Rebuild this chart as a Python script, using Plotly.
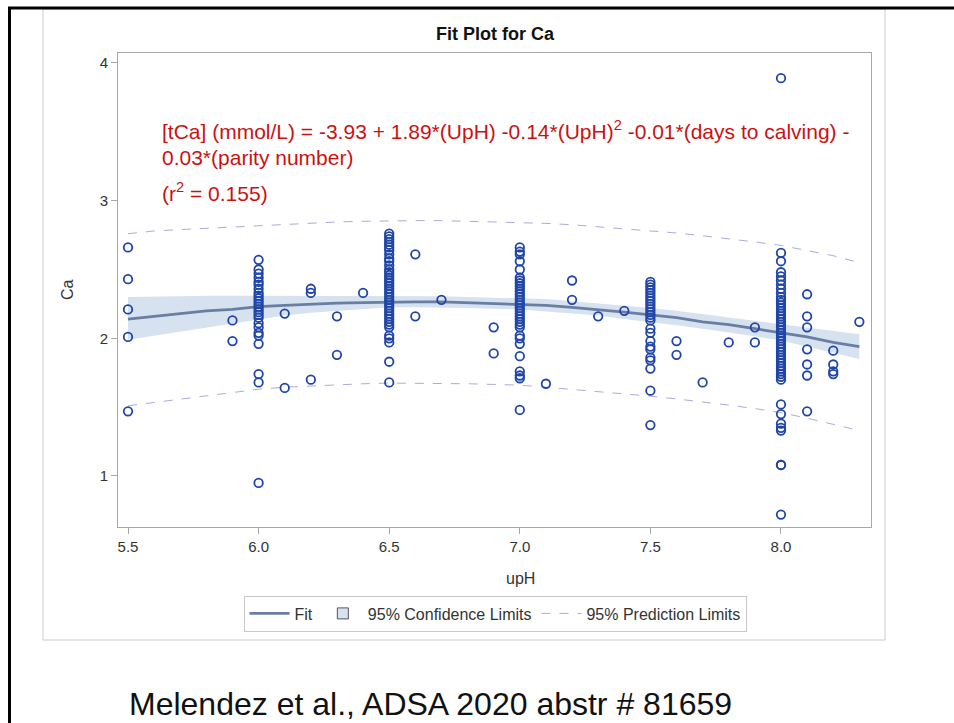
import plotly.graph_objects as go

# ---- data ----
ca_55 = [2.66, 2.43, 2.21, 2.01, 1.47]
ca_59 = [2.13, 1.98]
ca_60 = [2.57, 2.50, 2.47, 2.44, 2.41, 2.39, 2.36, 2.33, 2.31, 2.29, 2.27, 2.25, 2.23, 2.21, 2.19,
         2.17, 2.15, 2.11, 2.08, 2.04, 2.02, 1.96, 1.74, 1.68, 0.95]
ca_61 = [2.18, 1.64]
ca_62 = [2.36, 2.33, 1.70]
ca_63 = [2.16, 1.88]
ca_64 = [2.33]
ca_65 = [2.76, 2.74, 2.72, 2.70, 2.68, 2.66, 2.64, 2.61, 2.58, 2.56, 2.53, 2.50, 2.48, 2.46, 2.44,
         2.42, 2.40, 2.38, 2.36, 2.34, 2.32, 2.30, 2.28, 2.26, 2.24, 2.22, 2.20, 2.18, 2.16, 2.14,
         2.12, 2.10, 2.08, 2.02, 2.00, 1.97, 1.83, 1.68]
ca_66 = [2.61, 2.16]
ca_67 = [2.28]
ca_69 = [2.08, 1.89]
ca_70 = [2.66, 2.63, 2.61, 2.56, 2.50, 2.44, 2.42, 2.40, 2.38, 2.36, 2.34, 2.32, 2.30, 2.28, 2.26,
         2.24, 2.22, 2.20, 2.18, 2.16, 2.14, 2.12, 2.10, 2.08, 2.02, 2.00, 1.96, 1.87, 1.76, 1.73,
         1.71, 1.48]
ca_71 = [1.67]
ca_72 = [2.42, 2.28]
ca_73 = [2.16]
ca_74 = [2.20]
ca_75 = [2.41, 2.39, 2.37, 2.35, 2.33, 2.31, 2.29, 2.27, 2.25, 2.23, 2.21, 2.19, 2.17, 2.15, 2.13,
         2.07, 2.04, 1.98, 1.94, 1.92, 1.86, 1.84, 1.78, 1.62, 1.37]
ca_76 = [1.98, 1.88]
ca_77 = [1.68]
ca_78 = [1.97]
ca_79 = [2.08, 1.97]
ca_80 = [3.89, 2.62, 2.56, 2.48, 2.45, 2.42, 2.39, 2.36, 2.33, 2.30, 2.28, 2.26, 2.24, 2.22, 2.20,
         2.18, 2.16, 2.14, 2.12, 2.10, 2.08, 2.06, 2.04, 2.02, 2.00, 1.98, 1.96, 1.94, 1.92, 1.90,
         1.88, 1.86, 1.84, 1.82, 1.80, 1.78, 1.76, 1.74, 1.72, 1.70, 1.52, 1.45, 1.38, 1.35, 1.33,
         1.08, 1.08, 0.72]
ca_81 = [2.32, 2.16, 2.08, 1.92, 1.81, 1.73, 1.47]
ca_82 = [1.91, 1.81, 1.76, 1.74]
ca_83 = [2.12]

groups = [(5.5, ca_55), (5.9, ca_59), (6.0, ca_60), (6.1, ca_61), (6.2, ca_62), (6.3, ca_63),
          (6.4, ca_64), (6.5, ca_65), (6.6, ca_66), (6.7, ca_67), (6.9, ca_69), (7.0, ca_70),
          (7.1, ca_71), (7.2, ca_72), (7.3, ca_73), (7.4, ca_74), (7.5, ca_75), (7.6, ca_76),
          (7.7, ca_77), (7.8, ca_78), (7.9, ca_79), (8.0, ca_80), (8.1, ca_81), (8.2, ca_82),
          (8.3, ca_83)]

fit_x = [5.5, 5.6, 5.7, 5.8, 5.9, 6.0, 6.1, 6.2, 6.3, 6.4, 6.5, 6.6, 6.7, 6.8, 6.9, 7.0,
         7.1, 7.2, 7.3, 7.4, 7.5, 7.6, 7.7, 7.8, 7.9, 8.0, 8.1, 8.2, 8.3]
fit_y = [2.14, 2.16, 2.18, 2.20, 2.21, 2.23, 2.24, 2.25, 2.255, 2.26, 2.265, 2.265, 2.265, 2.26,
         2.255, 2.25, 2.24, 2.225, 2.21, 2.19, 2.17, 2.15, 2.12, 2.10, 2.07, 2.04, 2.01, 1.97, 1.94]
cl_upper = [2.30, 2.30, 2.305, 2.31, 2.31, 2.31, 2.31, 2.31, 2.31, 2.31, 2.305, 2.305, 2.305, 2.30,
            2.295, 2.29, 2.285, 2.27, 2.255, 2.24, 2.22, 2.20, 2.175, 2.155, 2.13, 2.10, 2.08,
            2.05, 2.03]
cl_lower = [1.99, 2.02, 2.05, 2.08, 2.11, 2.14, 2.165, 2.185, 2.20, 2.215, 2.225, 2.225, 2.225,
            2.22, 2.215, 2.21, 2.195, 2.18, 2.165, 2.14, 2.12, 2.095, 2.07, 2.045, 2.015, 1.985,
            1.94, 1.895, 1.85]
pl_upper = [2.76, 2.78, 2.79, 2.80, 2.81, 2.82, 2.83, 2.84, 2.845, 2.85, 2.855, 2.855, 2.855, 2.85,
            2.85, 2.845, 2.835, 2.825, 2.81, 2.80, 2.785, 2.765, 2.745, 2.725, 2.70, 2.675, 2.64,
            2.60, 2.55]
pl_lower = [1.51, 1.535, 1.56, 1.585, 1.61, 1.63, 1.645, 1.655, 1.665, 1.67, 1.675, 1.675, 1.675,
            1.67, 1.665, 1.66, 1.645, 1.63, 1.615, 1.60, 1.58, 1.56, 1.54, 1.515, 1.49, 1.46, 1.42,
            1.375, 1.33]

x_ticks = [5.5, 6.0, 6.5, 7.0, 7.5, 8.0]
x_tick_labels = ["5.5", "6.0", "6.5", "7.0", "7.5", "8.0"]
y_ticks = [1, 2, 3, 4]

W, H = 954, 723
FONT = "Liberation Sans, Arial, sans-serif"

pts_x, pts_y = [], []
for xv, vals in groups:
    for v in vals:
        pts_x.append(xv)
        pts_y.append(v)

BAND = "#d6e2f0"
PRED = "#a9acd8"
FITC = "#6a7ea3"
OBS = "#1f45a8"

fig = go.Figure()
# confidence band
fig.add_trace(go.Scatter(x=fit_x, y=cl_lower, mode="lines", line=dict(width=0, color="rgba(0,0,0,0)"),
                         showlegend=False, hoverinfo="skip"))
fig.add_trace(go.Scatter(x=fit_x, y=cl_upper, mode="lines", line=dict(width=0, color="rgba(0,0,0,0)"),
                         fill="tonexty", fillcolor=BAND, showlegend=False, hoverinfo="skip"))
# prediction limits
fig.add_trace(go.Scatter(x=fit_x, y=pl_upper, mode="lines",
                         line=dict(color=PRED, width=1, dash="dash"), showlegend=False))
fig.add_trace(go.Scatter(x=fit_x, y=pl_lower, mode="lines",
                         line=dict(color=PRED, width=1, dash="dash"), showlegend=False))
# fit
fig.add_trace(go.Scatter(x=fit_x, y=fit_y, mode="lines", name="Fit",
                         line=dict(color=FITC, width=2.8)))
# legend entries
fig.add_trace(go.Scatter(x=[None], y=[None], mode="markers", name="95% Confidence Limits",
                         marker=dict(symbol="square", size=11, color=BAND,
                                     line=dict(color="#555555", width=1))))
fig.add_trace(go.Scatter(x=[None], y=[None], mode="lines", name="95% Prediction Limits",
                         line=dict(color=PRED, width=1, dash="dash")))
# observations
fig.add_trace(go.Scatter(x=pts_x, y=pts_y, mode="markers", showlegend=False,
                         marker=dict(symbol="circle-open", size=8.5, color=OBS,
                                     line=dict(width=1.8, color=OBS))))

x0p, x1p = 118 / W, 871 / W
y0p, y1p = 1 - 527 / H, 1 - 53 / H

fig.update_layout(
    width=W, height=H,
    margin=dict(l=0, r=0, t=0, b=0),
    paper_bgcolor="white", plot_bgcolor="white",
    font=dict(family=FONT, color="#333333"),
    xaxis=dict(domain=[x0p, x1p], range=[5.4617, 8.3446], tickvals=x_ticks, ticktext=x_tick_labels,
               showgrid=False, zeroline=False, showline=True, mirror=True, linecolor="#a8a8a8",
               linewidth=1, ticks="outside", ticklen=6, tickcolor="#a8a8a8",
               tickfont=dict(size=15, color="#333333")),
    yaxis=dict(domain=[y0p, y1p], range=[0.6295, 4.0726], tickvals=y_ticks,
               showgrid=False, zeroline=False, showline=True, mirror=True, linecolor="#a8a8a8",
               linewidth=1, ticks="outside", ticklen=6, tickcolor="#a8a8a8",
               tickfont=dict(size=15, color="#333333")),
    legend=dict(orientation="h", x=495 / W, xanchor="center", y=1 - 613.5 / H, yanchor="middle",
                bordercolor="#c8c8c8", borderwidth=1, font=dict(size=16, color="#333333"),
                traceorder="normal", itemwidth=40, tracegroupgap=0),
    showlegend=True,
)

shapes = [
    dict(type="rect", xref="paper", yref="paper", x0=43 / W, x1=885 / W, y0=1 - 640 / H, y1=1 - 9 / H,
         line=dict(color="#cccccc", width=1)),
    dict(type="line", xref="paper", yref="paper", x0=8 / W, x1=1, y0=1 - 8 / H, y1=1 - 8 / H,
         line=dict(color="black", width=3)),
    dict(type="line", xref="paper", yref="paper", x0=9.5 / W, x1=9.5 / W, y0=0, y1=1 - 7 / H,
         line=dict(color="black", width=3)),
]
fig.update_layout(shapes=shapes)

red = "#cc1111"
ann = [
    dict(text="<b>Fit Plot for Ca</b>", x=495 / W, y=1 - 34 / H, xref="paper", yref="paper",
         showarrow=False, xanchor="center", yanchor="middle", font=dict(size=18, color="#111111")),
    dict(text="upH", x=520 / W, y=1 - 578 / H, xref="paper", yref="paper", showarrow=False,
         xanchor="center", yanchor="middle", font=dict(size=16, color="#333333")),
    dict(text="Ca", x=67 / W, y=1 - 290 / H, xref="paper", yref="paper", showarrow=False,
         textangle=-90, xanchor="center", yanchor="middle", font=dict(size=16, color="#333333")),
    dict(text="[tCa] (mmol/L) = -3.93 + 1.89*(UpH) -0.14*(UpH)<sup>2</sup> -0.01*(days to calving) -",
         x=160 / W, y=1 - 130 / H, xref="paper", yref="paper", showarrow=False,
         xanchor="left", yanchor="middle", font=dict(size=21, color=red)),
    dict(text="0.03*(parity number)", x=160 / W, y=1 - 157 / H, xref="paper", yref="paper",
         showarrow=False, xanchor="left", yanchor="middle", font=dict(size=21, color=red)),
    dict(text="(r<sup>2</sup> = 0.155)", x=160 / W, y=1 - 192 / H, xref="paper", yref="paper",
         showarrow=False, xanchor="left", yanchor="middle", font=dict(size=21, color=red)),
    dict(text="Melendez et al., ADSA 2020 abstr # 81659", x=127 / W, y=1 - 704 / H, xref="paper",
         yref="paper", showarrow=False, xanchor="left", yanchor="middle",
         font=dict(size=32, color="#111111")),
]
fig.update_layout(annotations=ann)

fig.write_html("out.html", config={"displayModeBar": False},
               post_script="document.body.style.margin='0';")
